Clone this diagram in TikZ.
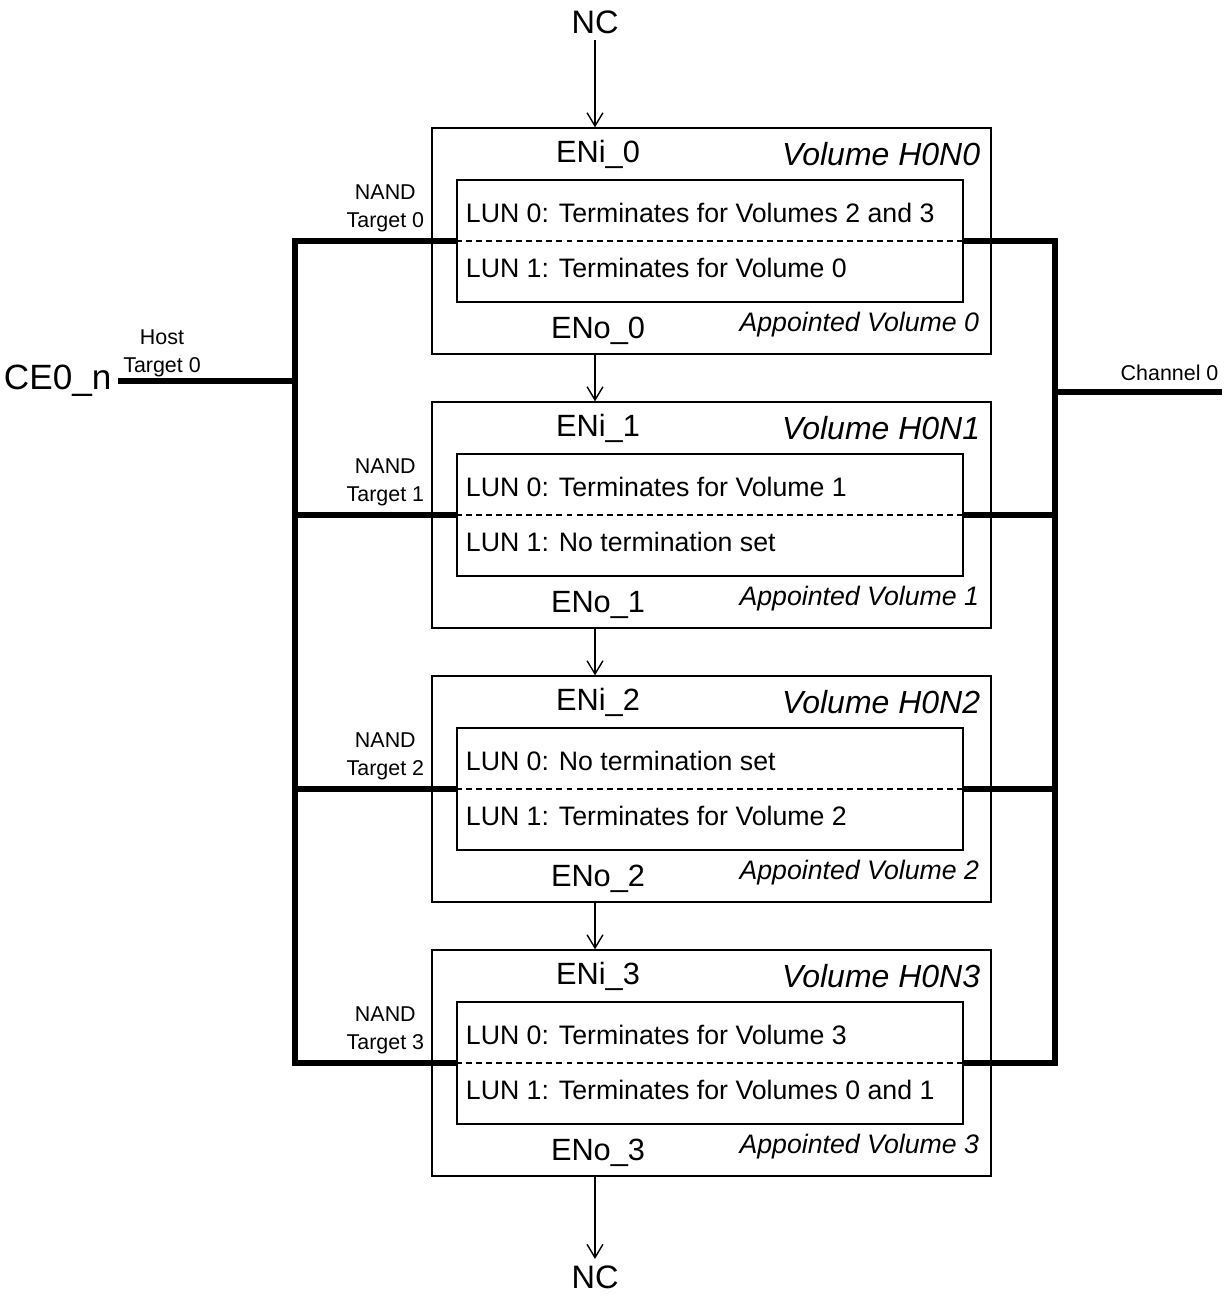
\documentclass[tikz,border=0pt]{standalone}
\usepackage{fontspec}
\setmainfont{Liberation Sans}
\usetikzlibrary{arrows.meta, positioning, calc}
\tikzset{
  every picture/.style={line width=0.8pt},
  volbox/.style={draw, minimum width=11.18cm, minimum height=4.52cm, inner sep=0pt},
  lunbox/.style={draw, minimum width=10.12cm, minimum height=2.44cm, inner sep=0pt},
  bus/.style={line width=3.3pt},
  split/.style={dash pattern=on 3.4pt off 2.3pt},
  arrow/.style={-{Straight Barb[length=7.5pt, width=9pt]}},
  big/.style={font=\fontsize{17.5}{20}\selectfont},
  body/.style={font=\fontsize{15.2}{18}\selectfont},
  small/.style={font=\fontsize{12.2}{15.9}\selectfont, align=center},
}
\begin{document}
\begin{tikzpicture}[x=0.02cm, y=-0.02cm]
  \useasboundingbox (0,0) rectangle (1227,1295);
  % the four NAND targets
  \foreach \i/\lunA/\lunB in {0/{Terminates for Volumes 2 and 3}/{Terminates for Volume 0},
      1/{Terminates for Volume 1}/{No termination set},
      2/{No termination set}/{Terminates for Volume 2},
      3/{Terminates for Volume 3}/{Terminates for Volumes 0 and 1}} {
    \node[volbox] (vol\i) at (711.5, {241+274*\i}) {};
    \node[lunbox] (lun\i) at (710, {241+274*\i}) {};
    \draw[split] (lun\i.west) -- (lun\i.east);
    \node[big] (eni\i) at ($(vol\i.center)+(-113.5,-87)$) {ENi\_\i};
    \node[big] (eno\i) at ($(vol\i.center)+(-113.5,90)$) {ENo\_\i};
    \node[big, font=\fontsize{18.2}{20}\selectfont, anchor=east] (vname\i) at ($(vol\i.east)+(-5,-87)$) {\itshape Volume H0N\i};
    \node[body, anchor=east] (appt\i) at ($(vol\i.east)+(-6,84)$) {\itshape Appointed Volume \i};
    \node[body, anchor=west] (luna\i) at ($(lun\i.west)+(3,-28)$) {LUN 0: \lunA};
    \node[body, anchor=west] (lunb\i) at ($(lun\i.west)+(3,27)$) {LUN 1: \lunB};
    \node[small] (nand\i) at ($(vol\i.west)+(-46,-33)$) {NAND\\Target \i};
    \coordinate (hl\i) at (295, {241+274*\i});
    \coordinate (hr\i) at (1055, {241+274*\i});
  }
  % buses
  \draw[bus] (lun0.west) -- (hl0) -- (hl3) -- (lun3.west);
  \draw[bus] (lun0.east) -- (hr0) -- (hr3) -- (lun3.east);
  \foreach \i in {1,2} {
    \draw[bus] (hl\i) -- (lun\i.west);
    \draw[bus] (lun\i.east) -- (hr\i);
  }
  % host side
  \node[big, font=\fontsize{20}{22}\selectfont, anchor=east] (ce) at (118, 381) {CE0\_n};
  \coordinate (hce) at (295, 381);
  \draw[bus] (ce.east) -- (hce);
  \node[small] (host) at (162, 353) {Host\\Target 0};
  % channel side
  \coordinate (hch) at (1055, 392);
  \coordinate (chan) at (1222, 392);
  \draw[bus] (hch) -- (chan);
  \node[small, anchor=east] (chlabel) at (1225, 373) {Channel 0};
  % enable chain
  \node[big, font=\fontsize{18.5}{20}\selectfont] (nctop) at (595, 22) {NC};
  \node[big, font=\fontsize{18.5}{20}\selectfont] (ncbot) at (595, 1277) {NC};
  \draw[arrow] (nctop) -- (nctop |- vol0.north);
  \foreach \i [evaluate=\i as \j using int(\i+1)] in {0,1,2}
    \draw[arrow] (vol\i.south -| nctop) -- (vol\j.north -| nctop);
  \draw[arrow] (vol3.south -| ncbot) -- (ncbot);
\end{tikzpicture}
\end{document}
